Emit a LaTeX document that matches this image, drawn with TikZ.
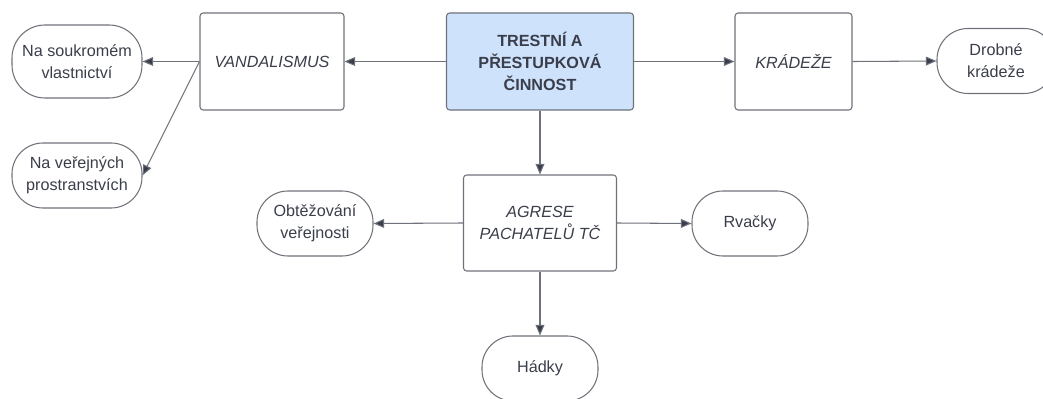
\documentclass[tikz,border=0pt]{standalone}
\usepackage{fontspec}
\setmainfont{Liberation Sans}
\usepackage{tikz}
\usetikzlibrary{arrows.meta}

\definecolor{txtgray}{RGB}{58,62,74}
\definecolor{linegray}{RGB}{110,114,122}
\definecolor{lightblue}{RGB}{207,226,252}

\begin{document}
\begin{tikzpicture}[
    font=\fontsize{9.2pt}{12.5pt}\selectfont, text=txtgray,
    box/.style={draw=linegray, line width=0.6pt, rounded corners=1.8pt, align=center, inner sep=0pt},
    pill/.style={draw=linegray, line width=0.6pt, rounded corners=0.62cm, align=center, inner sep=0pt,
      minimum width=2.32cm, minimum height=1.3cm},
    arr/.style={draw=linegray, line width=0.6pt, -{Triangle[length=6pt,width=5pt,fill=txtgray]}}]
  \useasboundingbox (0, 0) rectangle (20.86, 7.96);

  \node[box, fill=lightblue, minimum width=3.74cm, minimum height=1.94cm, font=\fontsize{9.2pt}{12.5pt}\selectfont\bfseries] (crime) at (10.8, 6.73) {TRESTNÍ A\\PŘESTUPKOVÁ\\ČINNOST};
  \node[box, minimum width=2.88cm, minimum height=1.94cm] (vandal) at (5.44, 6.73) {\itshape VANDALISMUS};
  \node[box, minimum width=2.34cm, minimum height=1.94cm] (theft) at (15.87, 6.73) {\itshape KRÁDEŽE};
  \node[box, minimum width=3.06cm, minimum height=1.92cm] (aggr) at (10.8, 3.5) {\itshape AGRESE\\\itshape PACHATELŮ TČ};

  \node[pill, minimum width=2.6cm, minimum height=1.46cm, rounded corners=0.66cm] (private) at (1.54, 6.73) {Na soukromém\\vlastnictví};
  \node[pill, minimum width=2.6cm] (public) at (1.54, 4.45) {Na veřejných\\prostranstvích};
  \node[pill, minimum width=2.36cm] (petty) at (19.92, 6.74) {Drobné\\krádeže};
  \node[pill] (nuisance) at (6.3, 3.49) {Obtěžování\\veřejnosti};
  \node[pill] (fights) at (15.0, 3.49) {Rvačky};
  \node[pill] (quarrels) at (10.8, 0.59) {Hádky};

  \draw[arr] (crime.west) -- (vandal.east);
  \draw[arr] (crime.east) -- (theft.west);
  \draw[arr] (theft.east) -- (petty.west);
  \draw[arr] (vandal.west) -- (private.east);
  \draw[arr] (vandal.west) -- (public.east);
  \draw[arr] (crime.south) -- (aggr.north);

  \draw[arr] (aggr.west) -- (nuisance.east);
  \draw[arr] (aggr.east) -- (fights.west);
  \draw[arr] (aggr.south) -- (quarrels.north);
\end{tikzpicture}
\end{document}
